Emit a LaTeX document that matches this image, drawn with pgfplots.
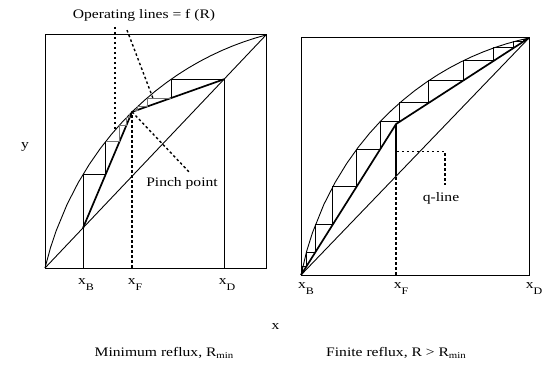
\documentclass[border=0pt]{standalone}
\usepackage{fontspec}
\setmainfont{Liberation Serif}[FakeStretch=1.2]
\usepackage{pgfplots}
\pgfplotsset{compat=1.18}
\pgfplotstableread{
x y
0 0
0.025 0.0876
0.05 0.1586
0.1 0.2732
0.15 0.3658
0.2 0.4442
0.25 0.5125
0.3 0.5729
0.35 0.6269
0.4 0.6756
0.45 0.7197
0.5 0.7597
0.55 0.7960
0.6 0.8291
0.65 0.8592
0.7 0.8865
0.75 0.9111
0.8 0.9334
0.85 0.9533
0.9 0.9710
0.95 0.9865
1 1
}\eqleft
\pgfplotstableread{
x y
0 0
0.025 0.1009
0.05 0.1777
0.1 0.2971
0.15 0.3912
0.2 0.4699
0.25 0.5377
0.3 0.5972
0.35 0.6501
0.4 0.6975
0.45 0.7401
0.5 0.7786
0.55 0.8134
0.6 0.8448
0.65 0.8731
0.7 0.8986
0.75 0.9214
0.8 0.9417
0.85 0.9597
0.9 0.9753
0.95 0.9887
1 1
}\eqright
\newcommand{\sub}[1]{\raisebox{-6bp}{\fontsize{10bp}{10bp}\selectfont #1}}
\newcommand{\lsub}[1]{\raisebox{-2.5bp}{\fontsize{9bp}{9bp}\selectfont #1}}
\begin{document}
\begin{tikzpicture}[font=\fontsize{13bp}{15bp}\selectfont,
  annot/.style={line width=1.4pt, dash pattern=on 2.5bp off 2.5bp},
  thinline/.style={line width=0.9pt},
  opline/.style={line width=1.7pt},
  faint/.style={line width=0.6pt, black!55}]
\path[use as bounding box] (0bp,0bp) rectangle (546bp,369bp);
% ---------------- Left panel ----------------
\begin{axis}[at={(45bp,101bp)}, anchor=south west, scale only axis,
  width=221bp, height=233bp, xmin=0, xmax=1, ymin=0, ymax=1,
  xtick=\empty, ytick=\empty, clip=false,
  axis line style={line width=1pt}]
\addplot[thinline] coordinates {(0,0) (1,1)};
\addplot[thinline] table {\eqleft};
\addplot[opline] coordinates {(0.172,0.172) (0.394,0.670) (0.81,0.81)};
\addplot[thinline] coordinates {(0.172,0) (0.172,0.4017) (0.2744,0.4017) (0.2744,0.5429)};
\addplot[faint] coordinates {(0.2744,0.5429) (0.3373,0.5429) (0.3373,0.6138) (0.3690,0.6138) (0.3690,0.6460) (0.3833,0.6460) (0.3833,0.6599)};
\addplot[thinline] coordinates {(0.81,0) (0.81,0.81) (0.5706,0.81) (0.5706,0.7294)};
\addplot[faint] coordinates {(0.5706,0.7294) (0.4617,0.7294) (0.4617,0.6928) (0.4189,0.6928) (0.4189,0.6784) (0.4030,0.6784) (0.4030,0.6730)};
\addplot[annot] coordinates {(0.394,0) (0.394,0.670)};
\addplot[annot] coordinates {(0.317,1.035) (0.317,0.59)};
\addplot[annot] coordinates {(0.371,1.021) (0.49,0.725)};
\addplot[annot] coordinates {(0.394,0.670) (0.656,0.408)};
\node[anchor=base] at (axis cs:0.172,0) [yshift=-17bp, xshift=3bp] {x\sub{B}};
\node[anchor=base] at (axis cs:0.394,0) [yshift=-17bp, xshift=3bp] {x\sub{F}};
\node[anchor=base] at (axis cs:0.81,0) [yshift=-17bp, xshift=3bp] {x\sub{D}};
\end{axis}
% ---------------- Right panel ----------------
\begin{axis}[at={(301bp,94bp)}, anchor=south west, scale only axis,
  width=228bp, height=237bp, xmin=0, xmax=1, ymin=0, ymax=1,
  xtick=\empty, ytick=\empty, clip=false,
  axis line style={line width=1pt}]
\addplot[thinline] coordinates {(0,0) (1,1)};
\addplot[thinline] table {\eqright};
\addplot[opline] coordinates {(0,0) (0.417,0.637) (1,1)};
\addplot[thinline] coordinates {(0.0080,0.0122) (0.0080,0.0364) (0.0238,0.0364) (0.0238,0.0968) (0.0634,0.0968) (0.0634,0.2131) (0.1395,0.2131) (0.1395,0.3729) (0.2441,0.3729) (0.2441,0.5301) (0.347,0.5301) (0.347,0.6471) (0.4332,0.6471) (0.4332,0.7263) (0.5604,0.7263) (0.5604,0.8202) (0.7112,0.8202) (0.7112,0.9040) (0.8458,0.9040) (0.8458,0.9582) (0.9329,0.9582) (0.9329,0.9844) (0.975,0.9844) (0.975,0.9946) (0.9914,0.9946)};
\addplot[line width=1.3pt] coordinates {(0.417,0.417) (0.417,0.637)};
\addplot[annot] coordinates {(0.417,0) (0.417,0.417)};
\addplot[annot] coordinates {(0.42,0.52) (0.632,0.52) (0.632,0.38)};
\node[anchor=base] at (axis cs:0,0) [yshift=-14bp, xshift=5bp] {x\sub{B}};
\node[anchor=base] at (axis cs:0.417,0) [yshift=-14bp, xshift=5bp] {x\sub{F}};
\node[anchor=base] at (axis cs:1,0) [yshift=-14bp, xshift=5bp] {x\sub{D}};
\end{axis}
% ---------------- Texts ----------------
\node at (144bp,354bp) {Operating lines = f (R)};
\node at (182bp,186bp) {Pinch point};
\node at (441bp,171bp) {q-line};
\node at (25bp,222bp) {y};
\node at (275.5bp,42.5bp) {x};
\node at (164bp,16bp) {Minimum reflux, R\lsub{min}};
\node at (396bp,16bp) {Finite reflux, R > R\lsub{min}};
\end{tikzpicture}
\end{document}
